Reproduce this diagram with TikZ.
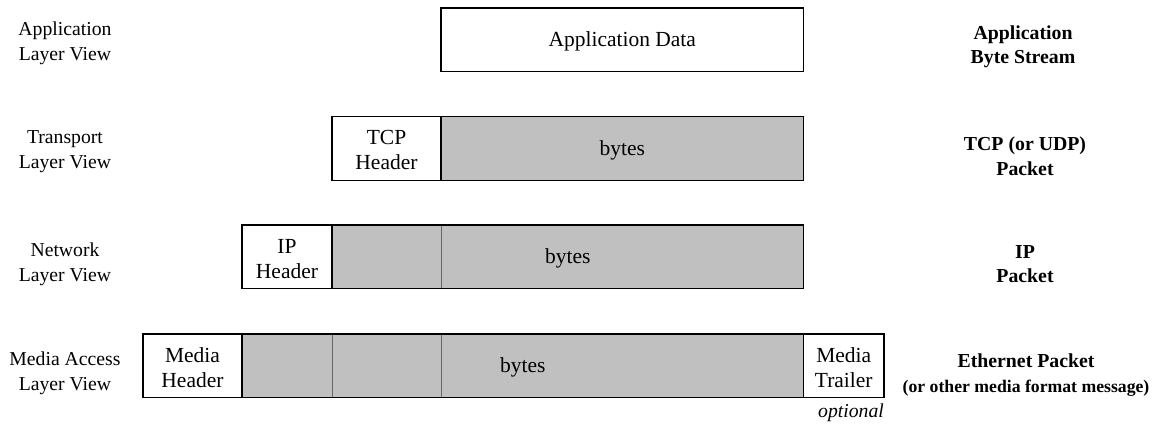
\documentclass[tikz,border=0pt]{standalone}
\usepackage{fontspec}
\setmainfont{Liberation Serif}
\definecolor{pktgray}{HTML}{C0C0C0}
\definecolor{divgray}{HTML}{666666}
\newcommand{\lowtxt}[1]{\raisebox{-2pt}[\height][\depth]{#1}}
\begin{document}
\begin{tikzpicture}[x=1pt,y=-1pt,
  box/.style={draw=black, line width=1.2pt, fill=white, inner sep=0pt, outer sep=0pt,
    anchor=north west, minimum height=63.5pt, align=center,
    font=\fontsize{21.5}{25}\selectfont},
  graybox/.style={box, fill=pktgray},
  divider/.style={draw=divgray, line width=0.9pt, shorten <=0.6pt, shorten >=0.6pt},
  leftlbl/.style={align=center, inner sep=0pt, font=\fontsize{19.7}{25}\selectfont},
  rightlbl/.style={align=center, inner sep=0pt, font=\fontsize{19.8}{24.5}\selectfont\bfseries},
  note/.style={inner sep=0pt, font=\fontsize{19.7}{23}\selectfont\itshape}]
\useasboundingbox (0,0) rectangle (1158,424);

% Row 1
\node[box, minimum width=362.5pt] (app) at (441,8) {\lowtxt{Application Data}};

% Row 2
\node[graybox, minimum width=362.5pt] (g2) at (441,116.7) {\lowtxt{bytes}};
\node[box, minimum width=109pt] (tcp) at (332,116.7) {\lowtxt{TCP}\\\lowtxt{Header}};

% Row 3
\node[graybox, minimum width=471.5pt] (g3) at (332,225) {\lowtxt{bytes}};
\node[box, minimum width=90pt] (ip) at (242,225) {\lowtxt{IP}\\\lowtxt{Header}};
\draw[divider] (g3.north -| tcp.east) -- (g3.south -| tcp.east);

% Row 4
\node[graybox, minimum width=561.5pt] (g4) at (242,334) {\lowtxt{bytes}};
\node[box, minimum width=99pt] (mh) at (143,334) {\lowtxt{Media}\\\lowtxt{Header}};
\node[box, minimum width=80.5pt] (mt) at (803.5,334) {\lowtxt{Media}\\\lowtxt{Trailer}};
\draw[divider] (g4.north -| ip.east) -- (g4.south -| ip.east);
\draw[divider] (g4.north -| tcp.east) -- (g4.south -| tcp.east);

% Left labels
\node[leftlbl] (l1) at (65,43.5) {Application\\Layer View};
\node[leftlbl] (l2) at (65,151.5) {Transport\\Layer View};
\node[leftlbl] (l3) at (65,264) {Network\\Layer View};
\node[leftlbl] (l4) at (65,373) {Media Access\\Layer View};

% Right labels
\node[rightlbl] (r1) at (1023,47) {Application\\Byte Stream};
\node[rightlbl] (r2) at (1025,156) {TCP (or UDP)\\Packet};
\node[rightlbl] (r3) at (1025,264) {IP\\Packet};
\node[rightlbl] (r4) at (1026,375) {Ethernet Packet\\{\fontsize{17.7}{20}\selectfont (or other media format message)}};

% Note
\node[note] (opt) at (851,413) {optional};
\end{tikzpicture}
\end{document}
